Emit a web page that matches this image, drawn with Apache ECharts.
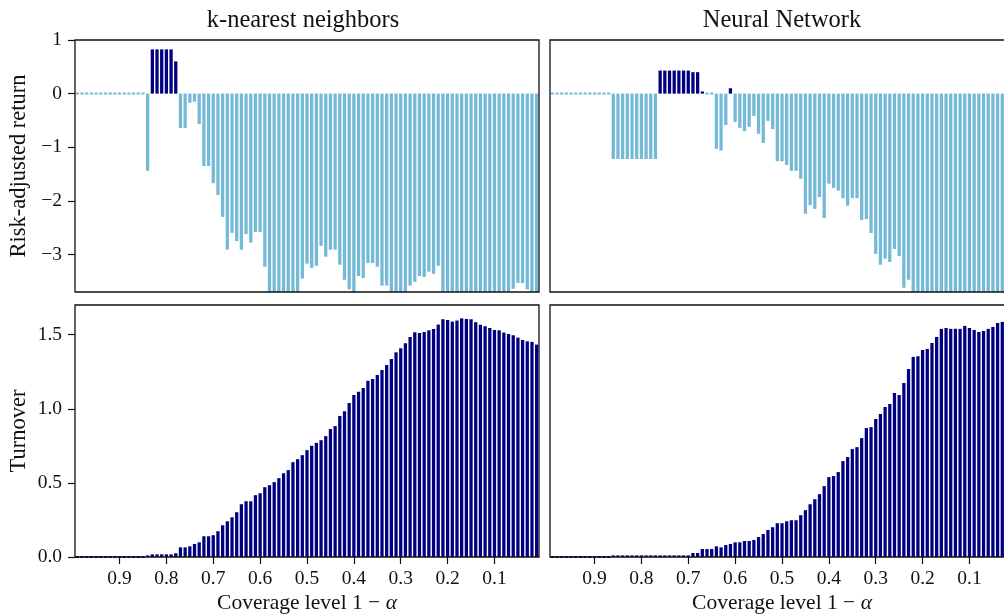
<!DOCTYPE html>
<html>
<head>
<meta charset="utf-8">
<script src="https://cdn.jsdelivr.net/npm/echarts@6/dist/echarts.min.js"></script>
<style>
  html, body { margin: 0; padding: 0; background: #ffffff; }
  #chart { width: 1004px; height: 614px; }
</style>
</head>
<body>
<div id="chart"></div>
<script>
// Coverage levels 1 - alpha, from left (0.99) to right (0.01)
const coverage = [
  '0.99','0.98','0.97','0.96','0.95','0.94','0.93','0.92','0.91','0.90',
  '0.89','0.88','0.87','0.86','0.85','0.84','0.83','0.82','0.81','0.80',
  '0.79','0.78','0.77','0.76','0.75','0.74','0.73','0.72','0.71','0.70',
  '0.69','0.68','0.67','0.66','0.65','0.64','0.63','0.62','0.61','0.60',
  '0.59','0.58','0.57','0.56','0.55','0.54','0.53','0.52','0.51','0.50',
  '0.49','0.48','0.47','0.46','0.45','0.44','0.43','0.42','0.41','0.40',
  '0.39','0.38','0.37','0.36','0.35','0.34','0.33','0.32','0.31','0.30',
  '0.29','0.28','0.27','0.26','0.25','0.24','0.23','0.22','0.21','0.20',
  '0.19','0.18','0.17','0.16','0.15','0.14','0.13','0.12','0.11','0.10',
  '0.09','0.08','0.07','0.06','0.05','0.04','0.03','0.02','0.01'
];

const xTickLabels = ['0.9','0.8','0.7','0.6','0.5','0.4','0.3','0.2','0.1'];
const returnTicks = [1, 0, -1, -2, -3];
const turnoverTicks = [0, 0.5, 1.0, 1.5];

// Risk-adjusted return, k-nearest neighbors
const knnReturn = [
  0,0,0,0,0,0,0,0,0,0,
  0,0,0,0,0,-1.44,0.825,0.825,0.825,0.825,
  0.825,0.60,-0.64,-0.64,-0.17,-0.15,-0.57,-1.35,-1.35,-1.67,
  -1.89,-2.30,-2.91,-2.60,-2.75,-2.91,-2.62,-2.78,-2.58,-2.58,
  -3.23,-3.9,-4.1,-4.0,-3.9,-4.2,-3.9,-3.8,-3.45,-3.17,
  -3.25,-3.21,-2.84,-3.04,-2.91,-2.91,-3.19,-3.47,-3.65,-3.8,
  -3.40,-3.44,-3.16,-3.16,-3.23,-3.58,-3.58,-3.8,-3.9,-3.8,
  -3.8,-3.58,-3.51,-3.40,-3.42,-3.32,-3.36,-3.21,-3.9,-4.0,
  -4.1,-4.0,-3.9,-4.2,-4.3,-4.1,-4.0,-3.9,-4.0,-4.2,
  -4.1,-3.9,-3.8,-3.64,-3.53,-3.53,-3.65,-3.8,-3.9
];

// Risk-adjusted return, neural network
const nnReturn = [
  0,0,0,0,0,0,0,0,0,0,
  0,0,0,-1.22,-1.22,-1.22,-1.22,-1.22,-1.22,-1.22,
  -1.22,-1.22,-1.22,0.43,0.43,0.43,0.43,0.43,0.43,0.43,
  0.40,0.40,0.04,0,0,-1.03,-1.06,-0.585,0.10,-0.53,
  -0.64,-0.70,-0.62,-0.42,-0.75,-0.92,-0.51,-0.66,-1.26,-1.26,
  -1.33,-1.44,-1.44,-1.59,-2.24,-2.08,-2.15,-1.93,-2.32,-1.68,
  -1.76,-1.81,-1.95,-2.09,-1.95,-1.95,-2.36,-2.34,-2.60,-2.99,
  -3.19,-3.08,-3.14,-2.90,-3.03,-3.62,-3.47,-3.9,-4.0,-4.1,
  -3.9,-4.0,-4.2,-4.1,-3.9,-4.0,-4.1,-4.0,-3.9,-4.2,
  -4.0,-4.1,-3.9,-4.0,-4.1,-3.9,-4.0,-3.9,-4.0
];

// Turnover, k-nearest neighbors
const knnTurnover = [
  0,0,0,0,0,0,0,0,0,0,
  0,0,0,0,0,0.011,0.018,0.018,0.018,0.018,
  0.018,0.025,0.065,0.065,0.072,0.088,0.099,0.14,0.14,0.147,
  0.174,0.214,0.241,0.268,0.302,0.356,0.376,0.376,0.417,0.430,
  0.471,0.484,0.505,0.532,0.565,0.586,0.640,0.660,0.687,0.721,
  0.750,0.770,0.788,0.815,0.863,0.883,0.951,0.984,1.039,1.093,
  1.115,1.140,1.189,1.200,1.228,1.261,1.295,1.336,1.381,1.408,
  1.442,1.484,1.516,1.511,1.518,1.529,1.538,1.568,1.604,1.599,
  1.588,1.595,1.610,1.606,1.604,1.584,1.566,1.557,1.545,1.532,
  1.529,1.514,1.505,1.496,1.480,1.464,1.455,1.451,1.433
];

// Turnover, neural network
const nnTurnover = [
  0,0,0,0,0,0,0,0,0,0,
  0,0,0,0.011,0.011,0.011,0.011,0.011,0.011,0.011,
  0.011,0.011,0.011,0.011,0.011,0.011,0.011,0.011,0.011,0.011,
  0.027,0.027,0.054,0.054,0.054,0.072,0.065,0.081,0.088,0.099,
  0.099,0.108,0.108,0.115,0.135,0.155,0.182,0.201,0.228,0.228,
  0.241,0.248,0.248,0.282,0.316,0.356,0.390,0.424,0.478,0.539,
  0.546,0.573,0.647,0.674,0.728,0.741,0.802,0.870,0.876,0.931,
  0.964,1.012,1.032,1.106,1.093,1.174,1.268,1.350,1.354,1.397,
  1.403,1.444,1.484,1.539,1.545,1.539,1.539,1.539,1.559,1.545,
  1.532,1.518,1.525,1.539,1.552,1.579,1.586,1.60,1.61
];

const NAVY = '#000080';
const LIGHT = '#74b9d6';
const INK = '#111111';
const FONT = 'Liberation Serif';

const isTick = (i, v) => xTickLabels.includes(String(Number(v)));

// Bars of zero height keep a thin outline so they show as a dashed row on the baseline
function barData(values, signColored) {
  return values.map(v => {
    const c = signColored ? (v > 0 ? NAVY : LIGHT) : NAVY;
    return {
      value: v,
      itemStyle: { color: c, borderColor: c, borderWidth: v === 0 ? 2 : 0, borderJoin: 'bevel' }
    };
  });
}

const grids = [
  { left: 75, top: 40, width: 464, height: 252 },
  { left: 550, top: 40, width: 464, height: 252 },
  { left: 75, top: 305, width: 464, height: 252 },
  { left: 550, top: 305, width: 464, height: 252 }
].map(g => Object.assign({
  show: true, z: 10, borderColor: INK, borderWidth: 1.3,
  backgroundColor: 'transparent', containLabel: false, outerBoundsMode: 'none'
}, g));

function xAxisFor(gridIndex, withLabels) {
  return {
    type: 'category', gridIndex, data: coverage, boundaryGap: true,
    axisLine: { show: false },
    axisTick: { show: withLabels, alignWithLabel: true, interval: isTick, length: 7,
                lineStyle: { color: INK, width: 1.2 } },
    axisLabel: { show: withLabels, interval: isTick, formatter: v => String(Number(v)),
                 margin: 12, fontFamily: FONT, fontSize: 19.5, color: INK },
    splitLine: { show: false }
  };
}

function yAxisFor(gridIndex, min, max, ticks, withLabels, fmt) {
  return {
    type: 'value', gridIndex, min, max,
    axisLine: { show: false },
    splitLine: { show: false },
    axisTick: { show: withLabels, length: 7, customValues: ticks, lineStyle: { color: INK, width: 1.2 } },
    axisLabel: { show: withLabels, customValues: ticks, formatter: fmt, margin: 13,
                 fontFamily: FONT, fontSize: 19.5, color: INK }
  };
}

const fmtReturn = v => (v < 0 ? '\u2212' + Math.abs(v) : String(v));
const fmtTurnover = v => Number(v).toFixed(1);

function barSeries(idx, values, signColored) {
  return {
    type: 'bar', xAxisIndex: idx, yAxisIndex: idx,
    data: barData(values, signColored),
    barWidth: '70%', clip: true, animation: false, silent: true
  };
}

function label(text, x, y, size, rotation) {
  return {
    type: 'text', x, y, rotation: rotation || 0, silent: true,
    style: {
      text, fill: INK, font: size + 'px "' + FONT + '"',
      align: 'center', verticalAlign: 'middle',
      rich: { a: { fontStyle: 'italic', fontFamily: FONT, fontSize: size, fill: INK } }
    }
  };
}

const chart = echarts.init(document.getElementById('chart'), null, { renderer: 'canvas' });
chart.setOption({
  backgroundColor: '#ffffff',
  animation: false,
  grid: grids,
  xAxis: [xAxisFor(0, false), xAxisFor(1, false), xAxisFor(2, true), xAxisFor(3, true)],
  yAxis: [
    yAxisFor(0, -3.7, 1, returnTicks, true, fmtReturn),
    yAxisFor(1, -3.7, 1, returnTicks, false, fmtReturn),
    yAxisFor(2, 0, 1.70, turnoverTicks, true, fmtTurnover),
    yAxisFor(3, 0, 1.70, turnoverTicks, false, fmtTurnover)
  ],
  series: [
    barSeries(0, knnReturn, true),
    barSeries(1, nnReturn, true),
    barSeries(2, knnTurnover, false),
    barSeries(3, nnTurnover, false)
  ],
  graphic: [
    label('k-nearest neighbors', 303, 21, 24.5),
    label('Neural Network', 782, 21, 24.5),
    label('Risk-adjusted return', 19, 166, 22.5, Math.PI / 2),
    label('Turnover', 19, 431, 22.5, Math.PI / 2),
    label('Coverage level 1 \u2212 {a|\u03b1}', 307, 603, 21.5),
    label('Coverage level 1 \u2212 {a|\u03b1}', 782, 603, 21.5)
  ]
});
</script>
</body>
</html>
